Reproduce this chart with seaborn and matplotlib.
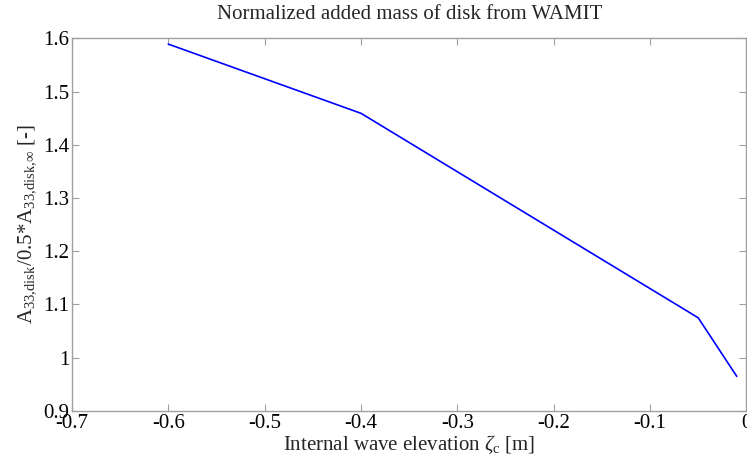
import matplotlib
matplotlib.use("Agg")
import matplotlib.pyplot as plt
import seaborn as sns
import pandas as pd
from matplotlib.ticker import FuncFormatter

elevation = [-0.6, -0.4, -0.05, -0.01]
added_mass = [1.589, 1.459, 1.075, 0.965]
x_ticks = [-0.7, -0.6, -0.5, -0.4, -0.3, -0.2, -0.1, 0.0]
y_ticks = [0.9, 1.0, 1.1, 1.2, 1.3, 1.4, 1.5, 1.6]

sns.set_style("white")
plt.rcParams['font.family'] = ['Liberation Serif', 'DejaVu Serif']
plt.rcParams['mathtext.fontset'] = 'custom'
plt.rcParams['mathtext.rm'] = 'Liberation Serif'
plt.rcParams['mathtext.it'] = 'Liberation Serif:italic'
plt.rcParams['axes.unicode_minus'] = False

df = pd.DataFrame({"x": elevation, "y": added_mass})

fig = plt.figure(figsize=(7.47, 4.61), dpi=100)
ax = fig.add_axes([0.0964, 0.1085, 0.9028, 0.8085])
sns.lineplot(data=df, x="x", y="y", sort=False, color="#0000ff", linewidth=1.2, ax=ax)

ax.set_xlim(-0.7, 0.0)
ax.set_ylim(0.9, 1.6)
ax.set_xticks(x_ticks)
ax.set_yticks(y_ticks)
fmt = FuncFormatter(lambda v, p: ("%g" % round(v, 2)))
ax.xaxis.set_major_formatter(fmt)
ax.yaxis.set_major_formatter(fmt)

for s in ax.spines.values():
    s.set_color("#a0a0a0")
    s.set_linewidth(1.0)
ax.tick_params(direction="in", length=5, width=0.8, color="#a0a0a0",
               labelsize=15, labelcolor="black", top=True, right=True,
               bottom=True, left=True, pad=2)

ax.set_title("Normalized added mass of disk from WAMIT", fontsize=15, pad=14)
ax.set_xlabel(r"Internal wave elevation $\zeta_{\mathrm{c}}$ [m]", fontsize=15, labelpad=1)
ax.set_ylabel(r"A$_{\mathrm{33{,}disk}}$/0.5*A$_{\mathrm{33{,}disk{,}\infty}}$ [-]",
              fontsize=15, labelpad=4)

fig.savefig("out.png", dpi=100)
